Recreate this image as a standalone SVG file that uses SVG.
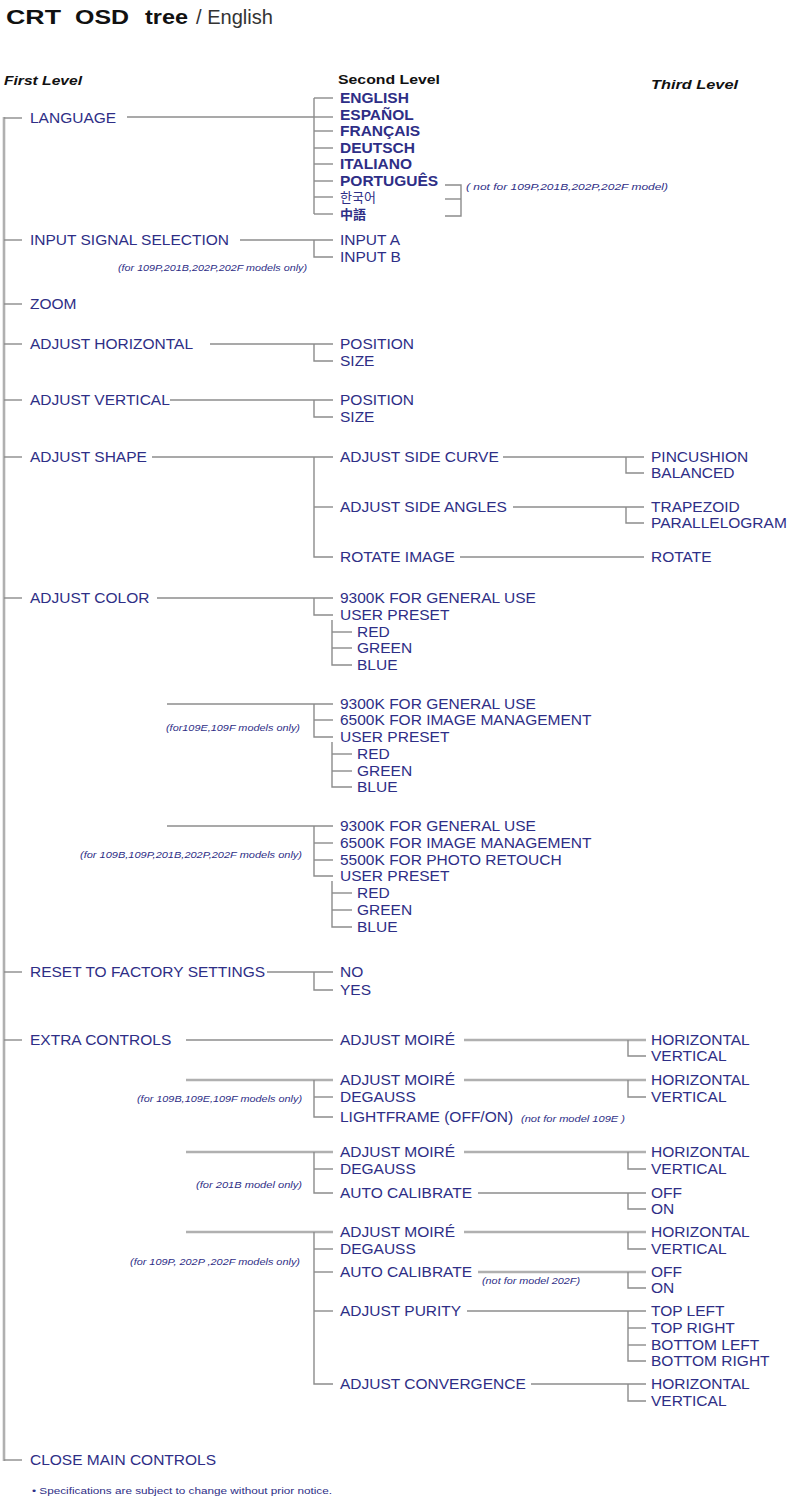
<svg xmlns="http://www.w3.org/2000/svg" width="789" height="1496" viewBox="0 0 789 1496">
<style>
.t{font-family:"Liberation Sans",Arial,sans-serif;font-size:15.5px;fill:#2e2e86}
.b{font-weight:bold}
.n{font-family:"Liberation Sans",Arial,sans-serif;font-size:8.5px;font-style:italic;fill:#2e2e86}
.f{font-family:"Liberation Sans",Arial,sans-serif;font-size:9.5px;fill:#2e2e86}
.h{font-family:"Liberation Sans",Arial,sans-serif;font-size:12.5px;font-weight:bold;font-style:italic;fill:#111}
.h2{font-family:"Liberation Sans",Arial,sans-serif;font-size:12.5px;font-weight:bold;fill:#111}
.ti{font-family:"Liberation Sans",Arial,sans-serif;font-size:20px;font-weight:bold;fill:#111}
.te{font-family:"Liberation Sans",Arial,sans-serif;font-size:20px;fill:#333}
.c line,.c polyline{stroke:#8c8c8c;stroke-width:1.4;fill:none}
.c .m{stroke:#b0b0b0;stroke-width:2.6}
</style>
<rect width="789" height="1496" fill="#fff"/>
<g id="title">
<text class="ti" x="6" y="24" textLength="55" lengthAdjust="spacingAndGlyphs">CRT</text>
<text class="ti" x="75" y="24" textLength="54" lengthAdjust="spacingAndGlyphs">OSD</text>
<text class="ti" x="145" y="24" textLength="43" lengthAdjust="spacingAndGlyphs">tree</text>
<text class="te" x="196" y="24" textLength="77" lengthAdjust="spacingAndGlyphs">/ English</text>
</g>
<g id="headers">
<text class="h" x="4" y="85" textLength="78" lengthAdjust="spacingAndGlyphs">First  Level</text>
<text class="h2" x="338" y="84" textLength="102" lengthAdjust="spacingAndGlyphs">Second  Level</text>
<text class="h" x="651" y="89" textLength="87" lengthAdjust="spacingAndGlyphs">Third  Level</text>
</g>
<g class="c" id="connectors">
<line class="m" x1="4" y1="117" x2="4" y2="1461"/>
<line x1="4" y1="118" x2="22" y2="118"/>
<line x1="4" y1="240" x2="22" y2="240"/>
<line x1="4" y1="304" x2="22" y2="304"/>
<line x1="4" y1="344" x2="22" y2="344"/>
<line x1="4" y1="400" x2="22" y2="400"/>
<line x1="4" y1="457" x2="22" y2="457"/>
<line x1="4" y1="598" x2="22" y2="598"/>
<line x1="4" y1="972" x2="22" y2="972"/>
<line x1="4" y1="1040" x2="22" y2="1040"/>
<line x1="4" y1="1460" x2="22" y2="1460"/>
<line x1="127" y1="117" x2="314" y2="117"/>
<line x1="314" y1="98" x2="314" y2="214"/>
<line x1="314" y1="98" x2="333" y2="98"/>
<line x1="314" y1="117" x2="333" y2="117"/>
<line x1="314" y1="131" x2="333" y2="131"/>
<line x1="314" y1="148" x2="333" y2="148"/>
<line x1="314" y1="164" x2="333" y2="164"/>
<line x1="314" y1="181" x2="333" y2="181"/>
<line x1="314" y1="197" x2="333" y2="197"/>
<line x1="314" y1="214" x2="333" y2="214"/>
<polyline points="445,185 461,185 461,216 445,216"/>
<line x1="445" y1="199" x2="461" y2="199"/>
<line x1="240" y1="240" x2="333" y2="240"/>
<polyline points="314,240 314,257 333,257"/>
<line x1="210" y1="344" x2="333" y2="344"/>
<polyline points="314,344 314,361 333,361"/>
<line x1="170" y1="400" x2="333" y2="400"/>
<polyline points="314,400 314,417 333,417"/>
<line x1="152" y1="457" x2="333" y2="457"/>
<polyline points="314,457 314,557 333,557"/>
<line x1="314" y1="507" x2="333" y2="507"/>
<line x1="503" y1="457" x2="644" y2="457"/>
<polyline points="626,457 626,473 644,473"/>
<line x1="513" y1="507" x2="644" y2="507"/>
<polyline points="626,507 626,523 644,523"/>
<line x1="460" y1="557" x2="644" y2="557"/>
<line x1="157" y1="598" x2="333" y2="598"/>
<polyline points="314,598 314,615 333,615"/>
<polyline points="332,620 332,665 352,665"/>
<line x1="332" y1="632" x2="352" y2="632"/>
<line x1="332" y1="648" x2="352" y2="648"/>
<line x1="167" y1="704" x2="333" y2="704"/>
<polyline points="314,704 314,737 333,737"/>
<line x1="314" y1="720" x2="333" y2="720"/>
<polyline points="332,742 332,787 352,787"/>
<line x1="332" y1="754" x2="352" y2="754"/>
<line x1="332" y1="771" x2="352" y2="771"/>
<line x1="167" y1="826" x2="333" y2="826"/>
<polyline points="314,826 314,876 333,876"/>
<line x1="314" y1="843" x2="333" y2="843"/>
<line x1="314" y1="860" x2="333" y2="860"/>
<polyline points="332,881 332,927 352,927"/>
<line x1="332" y1="893" x2="352" y2="893"/>
<line x1="332" y1="910" x2="352" y2="910"/>
<line x1="267" y1="972" x2="333" y2="972"/>
<polyline points="314,972 314,990 333,990"/>
<line x1="186" y1="1040" x2="333" y2="1040"/>
<line class="m" x1="464" y1="1040" x2="646" y2="1040"/>
<polyline points="628,1040 628,1056 646,1056"/>
<line class="m" x1="186" y1="1080" x2="333" y2="1080"/>
<polyline points="314,1080 314,1117 333,1117"/>
<line x1="314" y1="1097" x2="333" y2="1097"/>
<line class="m" x1="464" y1="1080" x2="646" y2="1080"/>
<polyline points="628,1080 628,1097 646,1097"/>
<line class="m" x1="186" y1="1152" x2="333" y2="1152"/>
<polyline points="314,1152 314,1193 333,1193"/>
<line x1="314" y1="1169" x2="333" y2="1169"/>
<line class="m" x1="464" y1="1152" x2="646" y2="1152"/>
<polyline points="628,1152 628,1169 646,1169"/>
<line x1="478" y1="1193" x2="646" y2="1193"/>
<polyline points="628,1193 628,1209 646,1209"/>
<line class="m" x1="186" y1="1232" x2="333" y2="1232"/>
<polyline points="314,1232 314,1384 333,1384"/>
<line x1="314" y1="1249" x2="333" y2="1249"/>
<line x1="314" y1="1272" x2="333" y2="1272"/>
<line x1="314" y1="1311" x2="333" y2="1311"/>
<line class="m" x1="464" y1="1232" x2="646" y2="1232"/>
<polyline points="628,1232 628,1249 646,1249"/>
<line class="m" x1="478" y1="1272" x2="646" y2="1272"/>
<polyline points="628,1272 628,1288 646,1288"/>
<line x1="467" y1="1311" x2="646" y2="1311"/>
<polyline points="628,1311 628,1361 646,1361"/>
<line x1="628" y1="1328" x2="646" y2="1328"/>
<line x1="628" y1="1345" x2="646" y2="1345"/>
<line x1="531" y1="1384" x2="646" y2="1384"/>
<polyline points="628,1384 628,1401 646,1401"/>
</g>
<g id="level1">
<text class="t" x="30" y="123">LANGUAGE</text>
<text class="t" x="30" y="245">INPUT SIGNAL SELECTION</text>
<text class="t" x="30" y="309">ZOOM</text>
<text class="t" x="30" y="349">ADJUST HORIZONTAL</text>
<text class="t" x="30" y="405">ADJUST VERTICAL</text>
<text class="t" x="30" y="462">ADJUST SHAPE</text>
<text class="t" x="30" y="603">ADJUST COLOR</text>
<text class="t" x="30" y="977">RESET TO FACTORY SETTINGS</text>
<text class="t" x="30" y="1045">EXTRA CONTROLS</text>
<text class="t" x="30" y="1465">CLOSE MAIN CONTROLS</text>
</g>
<g id="language">
<text class="t b" x="340" y="103" font-size="14.5">ENGLISH</text>
<text class="t b" x="340" y="120" font-size="14.5">ESPAÑOL</text>
<text class="t b" x="340" y="136" font-size="14.5">FRANÇAIS</text>
<text class="t b" x="340" y="153" font-size="14.5">DEUTSCH</text>
<text class="t b" x="340" y="169" font-size="14.5">ITALIANO</text>
<text class="t b" x="340" y="186" font-size="14.5">PORTUGUÊS</text>
<text class="t" x="340" y="202" style="font-family:'Noto Sans CJK KR',sans-serif;font-size:13px">한국어</text>
<text class="t b" x="340" y="219" style="font-family:'Noto Sans CJK TC',sans-serif;font-size:13px">中語</text>
<text class="n" x="466" y="190" textLength="202" lengthAdjust="spacingAndGlyphs">( not for 109P,201B,202P,202F model)</text>
</g>
<g id="level2">
<text class="t" x="340" y="245">INPUT A</text>
<text class="t" x="340" y="262">INPUT B</text>
<text class="n" x="118" y="271" textLength="189" lengthAdjust="spacingAndGlyphs">(for 109P,201B,202P,202F models only)</text>
<text class="t" x="340" y="349">POSITION</text>
<text class="t" x="340" y="366">SIZE</text>
<text class="t" x="340" y="405">POSITION</text>
<text class="t" x="340" y="422">SIZE</text>
<text class="t" x="340" y="462">ADJUST SIDE CURVE</text>
<text class="t" x="340" y="512">ADJUST SIDE ANGLES</text>
<text class="t" x="340" y="562">ROTATE IMAGE</text>
<text class="t" x="651" y="462">PINCUSHION</text>
<text class="t" x="651" y="478">BALANCED</text>
<text class="t" x="651" y="512">TRAPEZOID</text>
<text class="t" x="651" y="528">PARALLELOGRAM</text>
<text class="t" x="651" y="562">ROTATE</text>
</g>
<g id="color">
<text class="t" x="340" y="603">9300K FOR GENERAL USE</text>
<text class="t" x="340" y="620">USER PRESET</text>
<text class="t" x="357" y="637">RED</text>
<text class="t" x="357" y="653">GREEN</text>
<text class="t" x="357" y="670">BLUE</text>
<text class="t" x="340" y="709">9300K FOR GENERAL USE</text>
<text class="t" x="340" y="725">6500K FOR IMAGE MANAGEMENT</text>
<text class="t" x="340" y="742">USER PRESET</text>
<text class="t" x="357" y="759">RED</text>
<text class="t" x="357" y="776">GREEN</text>
<text class="t" x="357" y="792">BLUE</text>
<text class="n" x="166" y="731" textLength="134" lengthAdjust="spacingAndGlyphs">(for109E,109F models only)</text>
<text class="t" x="340" y="831">9300K FOR GENERAL USE</text>
<text class="t" x="340" y="848">6500K FOR IMAGE MANAGEMENT</text>
<text class="t" x="340" y="865">5500K FOR PHOTO RETOUCH</text>
<text class="t" x="340" y="881">USER PRESET</text>
<text class="t" x="357" y="898">RED</text>
<text class="t" x="357" y="915">GREEN</text>
<text class="t" x="357" y="932">BLUE</text>
<text class="n" x="80" y="858" textLength="222" lengthAdjust="spacingAndGlyphs">(for 109B,109P,201B,202P,202F models only)</text>
<text class="t" x="340" y="977">NO</text>
<text class="t" x="340" y="995">YES</text>
</g>
<g id="extra">
<text class="t" x="340" y="1045">ADJUST MOIRÉ</text>
<text class="t" x="651" y="1045">HORIZONTAL</text>
<text class="t" x="651" y="1061">VERTICAL</text>
<text class="t" x="340" y="1085">ADJUST MOIRÉ</text>
<text class="t" x="340" y="1102">DEGAUSS</text>
<text class="t" x="340" y="1122">LIGHTFRAME (OFF/ON)</text>
<text class="n" x="521" y="1122" textLength="104" lengthAdjust="spacingAndGlyphs">(not for model 109E )</text>
<text class="t" x="651" y="1085">HORIZONTAL</text>
<text class="t" x="651" y="1102">VERTICAL</text>
<text class="n" x="137" y="1102" textLength="165" lengthAdjust="spacingAndGlyphs">(for 109B,109E,109F models only)</text>
<text class="t" x="340" y="1157">ADJUST MOIRÉ</text>
<text class="t" x="340" y="1174">DEGAUSS</text>
<text class="t" x="340" y="1198">AUTO CALIBRATE</text>
<text class="t" x="651" y="1157">HORIZONTAL</text>
<text class="t" x="651" y="1174">VERTICAL</text>
<text class="t" x="651" y="1198">OFF</text>
<text class="t" x="651" y="1214">ON</text>
<text class="n" x="196" y="1188" textLength="106" lengthAdjust="spacingAndGlyphs">(for 201B model only)</text>
<text class="t" x="340" y="1237">ADJUST MOIRÉ</text>
<text class="t" x="340" y="1254">DEGAUSS</text>
<text class="t" x="340" y="1277">AUTO CALIBRATE</text>
<text class="t" x="340" y="1316">ADJUST PURITY</text>
<text class="t" x="340" y="1389">ADJUST CONVERGENCE</text>
<text class="n" x="482" y="1284" textLength="98" lengthAdjust="spacingAndGlyphs">(not for model 202F)</text>
<text class="n" x="130" y="1265" textLength="170" lengthAdjust="spacingAndGlyphs">(for 109P, 202P ,202F models only)</text>
<text class="t" x="651" y="1237">HORIZONTAL</text>
<text class="t" x="651" y="1254">VERTICAL</text>
<text class="t" x="651" y="1277">OFF</text>
<text class="t" x="651" y="1293">ON</text>
<text class="t" x="651" y="1316">TOP LEFT</text>
<text class="t" x="651" y="1333">TOP RIGHT</text>
<text class="t" x="651" y="1350">BOTTOM LEFT</text>
<text class="t" x="651" y="1366">BOTTOM RIGHT</text>
<text class="t" x="651" y="1389">HORIZONTAL</text>
<text class="t" x="651" y="1406">VERTICAL</text>
</g>
<g id="footnote">
<text class="f" x="32" y="1494" textLength="300" lengthAdjust="spacingAndGlyphs">• Specifications are subject to change without prior notice.</text>
</g>
</svg>
